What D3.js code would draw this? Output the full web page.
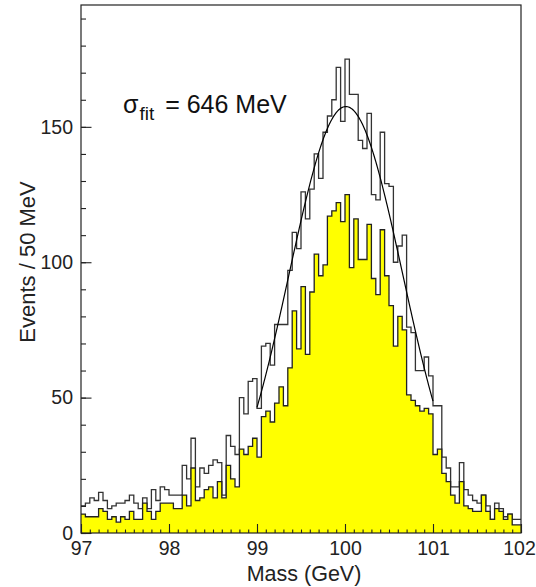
<!DOCTYPE html>
<html>
<head>
<meta charset="utf-8">
<script src="https://cdn.jsdelivr.net/npm/d3@7"></script>
<style>
  body { margin: 0; background: #fff; }
  svg { display: block; font-family: "Liberation Sans", Arial, sans-serif; }
</style>
</head>
<body>
<div id="chart"></div>
<script>
// histogram: 100 bins of 50 MeV from 97 to 102 GeV
const massMin = 97
const binWidth = 0.05

// all events (white, outlined)
const totalCounts = [
  10, 11, 13, 12, 15, 12, 9, 10, 11, 11,
  12, 14, 11, 9, 13, 9, 16, 12, 17, 16,
  14, 14, 14, 25, 20, 35, 17, 24, 22, 25,
  27, 26, 14, 36, 32, 29, 50, 44, 56, 57,
  46, 69, 70, 62, 77, 77, 77, 97, 111, 105,
  126, 116, 127, 140, 131, 148, 154, 160, 172, 152,
  175, 162, 162, 145, 142, 155, 125, 123, 148, 129,
  128, 100, 106, 110, 76, 74, 60, 60, 65, 58,
  47, 47, 28, 24, 17, 17, 26, 16, 14, 12,
  11, 14, 10, 5, 11, 9, 6, 7, 5, 5
]

// selected events (yellow)
const selectedCounts = [
  7, 6, 6, 6, 9, 8, 5, 6, 4, 6,
  5, 8, 5, 5, 11, 8, 5, 8, 11, 11,
  11, 9, 9, 14, 10, 24, 12, 13, 16, 17,
  13, 19, 13, 25, 20, 17, 31, 29, 32, 35,
  28, 43, 45, 41, 48, 54, 47, 61, 82, 68,
  91, 66, 89, 103, 95, 99, 117, 119, 122, 115,
  125, 98, 116, 101, 101, 114, 94, 88, 112, 95,
  84, 69, 80, 75, 51, 49, 47, 45, 46, 44,
  29, 31, 22, 19, 14, 11, 19, 10, 9, 8,
  8, 14, 8, 5, 9, 8, 5, 7, 3, 3
]

// gaussian fit parameters
const fitAmp = 157.5
const fitMean = 100.01
const fitSigma = 0.646
const fitRange = [99, 101]

const xTicks = [97, 98, 99, 100, 101, 102]
const yTicks = [0, 50, 100, 150]

const width = 536, height = 587
const margin = {top: 5, right: 15, bottom: 54, left: 81}

const svg = d3.select("#chart").append("svg")
    .attr("width", width)
    .attr("height", height)

const x = d3.scaleLinear()
    .domain([97, 102])
    .range([margin.left, width - margin.right])

const y = d3.scaleLinear()
    .domain([0, 195])
    .range([height - margin.bottom, margin.top])

const toBins = counts => counts.map((c, i) => ({lo: massMin + i * binWidth, v: c}))
    .concat([{lo: massMin + counts.length * binWidth, v: counts[counts.length - 1]}])

const stepLine = d3.line()
    .x(d => x(d.lo))
    .y(d => y(d.v))
    .curve(d3.curveStepAfter)

const stepArea = d3.area()
    .x(d => x(d.lo))
    .y0(y(0))
    .y1(d => y(d.v))
    .curve(d3.curveStepAfter)

// outer histogram
svg.append("path")
    .datum(toBins(totalCounts))
    .attr("fill", "none")
    .attr("stroke", "#333")
    .attr("stroke-width", 1.3)
    .attr("d", stepLine)

// yellow histogram
svg.append("path")
    .datum(toBins(selectedCounts))
    .attr("fill", "#ffff00")
    .attr("d", stepArea)

svg.append("path")
    .datum(toBins(selectedCounts))
    .attr("fill", "none")
    .attr("stroke", "#222")
    .attr("stroke-width", 1.3)
    .attr("d", stepLine)

// fit curve
const fitPts = d3.range(fitRange[0], fitRange[1] + 0.0001, 0.01)
    .map(m => ({m: m, v: fitAmp * Math.exp(-Math.pow(m - fitMean, 2) / (2 * fitSigma * fitSigma))}))

svg.append("path")
    .datum(fitPts)
    .attr("fill", "none")
    .attr("stroke", "#000")
    .attr("stroke-width", 1.2)
    .attr("d", d3.line().x(d => x(d.m)).y(d => y(d.v)))

// frame
svg.append("rect")
    .attr("x", x(97))
    .attr("y", y(195))
    .attr("width", x(102) - x(97))
    .attr("height", y(0) - y(195))
    .attr("fill", "none")
    .attr("stroke", "#222")
    .attr("stroke-width", 1.2)

// x axis, ticks pointing inside
const xMinor = d3.range(0, 51).map(i => 97 + i * 0.1)
svg.append("g")
    .attr("transform", `translate(0, ${y(0)})`)
    .call(d3.axisBottom(x).tickValues(xMinor).tickSize(-3.5).tickFormat(""))
    .call(g => g.select(".domain").remove())

svg.append("g")
    .attr("class", "x-axis")
    .attr("transform", `translate(0, ${y(0)})`)
    .call(d3.axisBottom(x).tickValues(xTicks).tickSize(-9).tickPadding(8).tickFormat(d3.format("d")))
    .call(g => g.select(".domain").remove())

// last label sits against the page edge
svg.selectAll(".x-axis .tick text").filter(d => d === 102).attr("dx", -2)

// y axis, ticks pointing inside
const yMinor = d3.range(0, 20).map(i => i * 10)
svg.append("g")
    .attr("transform", `translate(${x(97)}, 0)`)
    .call(d3.axisLeft(y).tickValues(yMinor).tickSize(-5).tickFormat(""))
    .call(g => g.select(".domain").remove())

svg.append("g")
    .attr("class", "y-axis")
    .attr("transform", `translate(${x(97)}, 0)`)
    .call(d3.axisLeft(y).tickValues(yTicks).tickSize(-10.5).tickPadding(8).tickFormat(d3.format("d")))
    .call(g => g.select(".domain").remove())

svg.selectAll(".tick line").attr("stroke", "#222").attr("stroke-width", 1.1)
svg.selectAll(".x-axis text, .y-axis text")
    .attr("fill", "#222")
    .style("font-size", "19.5px")

// axis titles
svg.append("text")
    .attr("x", 304)
    .attr("y", 581)
    .attr("text-anchor", "middle")
    .attr("fill", "#222")
    .style("font-size", "21.5px")
    .text("Mass (GeV)")

svg.append("text")
    .attr("transform", `translate(35, 262) rotate(-90)`)
    .attr("text-anchor", "middle")
    .attr("fill", "#222")
    .style("font-size", "22px")
    .text("Events / 50 MeV")

// fit label
const lbl = svg.append("text")
    .attr("x", 123)
    .attr("y", 113)
    .attr("fill", "#111")
    .style("font-size", "25px")
lbl.append("tspan").text("\u03c3")
lbl.append("tspan").attr("dy", 7).attr("dx", 1).style("font-size", "19px").text("fit")
lbl.append("tspan").attr("dy", -7).attr("dx", 4).text(" = 646 MeV")
</script>
</body>
</html>
